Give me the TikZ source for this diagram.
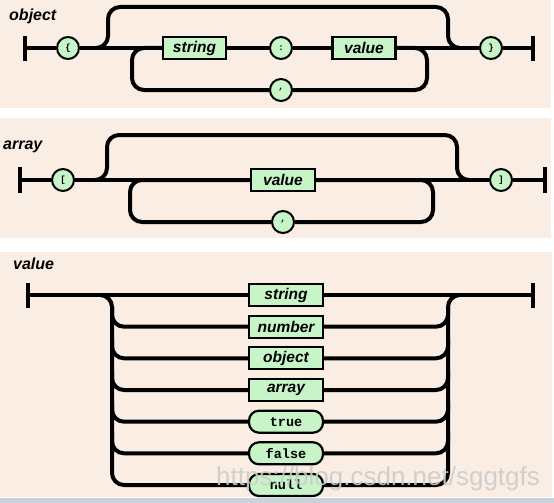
\documentclass[tikz,border=0pt]{standalone}
\usepackage{fontspec}
\setmainfont{Liberation Sans}
\setmonofont{Liberation Mono}
\definecolor{JsonPeach}{HTML}{FAEDE4}
\definecolor{JsonGreen}{HTML}{C8F5C8}
\definecolor{JsonEdge}{HTML}{C9D3DE}

\begin{document}
\begin{tikzpicture}[x=1pt,y=-1pt,
        rail/.style={line width=4pt,rounded corners=12pt},
        endbar/.style={line width=4pt},
        token/.style={circle,draw,line width=2pt,fill=JsonGreen,minimum size=22pt,inner sep=0pt,font=\ttfamily\bfseries\small},
        rulebox/.style={rectangle,draw,line width=2.2pt,fill=JsonGreen,minimum height=22pt,inner sep=0pt,font=\bfseries\itshape\fontsize{15.5}{15.5}\selectfont},
        literal/.style={rulebox,rounded corners=10pt,font=\ttfamily\bfseries\fontsize{13.5}{13.5}\selectfont},
        heading/.style={anchor=west,inner sep=0pt,font=\bfseries\itshape\fontsize{16}{16}\selectfont}]
    \useasboundingbox (0,0) rectangle (554,503);
    \fill[white] (0,0) rectangle (554,503);

    % object
    \fill[JsonPeach] (0,0) rectangle (551,108);
    \node[heading] (objTitle) at (9,16) {object};
    \coordinate (objIn) at (25,48);
    \coordinate (objOut) at (533,48);
    \node[token] (objOpen) at (68,48) {\{};
    \node[rulebox,minimum width=63pt] (objKey) at (194.5,48) {string};
    \node[token] (objColon) at (281,48) {:};
    \node[rulebox,minimum width=63pt] (objVal) at (364,48) {value};
    \node[token] (objClose) at (491,48) {\}};
    \node[token] (objComma) at (281,90) {,};
    \draw[endbar] (25,36) -- (25,61) (533,36) -- (533,61);
    \draw[rail] (objIn) -- (objOpen) -- (objKey) -- (objColon) -- (objVal) -- (objClose) -- (objOut);
    \draw[rail] (96,48) -- (108,48) -- (108,7) -- (448,7) -- (448,48) -- (460,48);   % empty object
    \draw[rail] (objVal.east) -- (427,48) -- (427,90) -- (objComma);
    \draw[rail] (objComma) -- (132,90) -- (132,48) -- (objKey.west);

    % array
    \fill[JsonPeach] (0,118) rectangle (551,238);
    \node[heading] (arrTitle) at (3,147) {array};
    \coordinate (arrIn) at (20,180);
    \coordinate (arrOut) at (545,180);
    \node[token] (arrOpen) at (63,180) {[};
    \node[rulebox,minimum width=64pt] (arrVal) at (283,180) {value};
    \node[token] (arrClose) at (501,180) {]};
    \node[token] (arrComma) at (283,222) {,};
    \draw[endbar] (20,167) -- (20,193) (545,167) -- (545,193);
    \draw[rail] (arrIn) -- (arrOpen) -- (arrVal) -- (arrClose) -- (arrOut);
    \draw[rail] (95,180) -- (107,180) -- (107,135) -- (457,135) -- (457,180) -- (469,180);   % empty array
    \draw[rail] (arrVal.east) -- (433,180) -- (433,222) -- (arrComma);
    \draw[rail] (arrComma) -- (130,222) -- (130,180) -- (arrVal.west);

    % value
    \fill[JsonPeach] (0,252) rectangle (552,497);
    \node[heading] (valTitle) at (13,264) {value};
    \coordinate (valIn) at (28,295);
    \coordinate (valOut) at (533,295);
    \node[rulebox,minimum width=74pt] (valString) at (286,295) {string};
    \node[rulebox,minimum width=74pt] (valNumber) at (286,326.7) {number};
    \node[rulebox,minimum width=74pt] (valObject) at (286,358.3) {object};
    \node[rulebox,minimum width=74pt] (valArray) at (286,390) {array};
    \node[literal,minimum width=74pt] (valTrue) at (286,421.7) {true};
    \node[literal,minimum width=74pt] (valFalse) at (286,453.3) {false};
    \node[literal,minimum width=74pt] (valNull) at (286,485) {null};
    \draw[endbar] (28,283) -- (28,308) (533,283) -- (533,308);
    \draw[rail] (valIn) -- (valString) -- (valOut);
    \draw[rail] (100,295) -- (112,295) -- (112,485) -- (valNull.west);
    \draw[rail] (valNull.east) -- (448,485) -- (448,295) -- (460,295);
    \foreach \n/\y in {valNumber/326.7,valObject/358.3,valArray/390,valTrue/421.7,valFalse/453.3}{
        \draw[rail] (112,\y-20) -- (112,\y) -- (\n.west);
        \draw[rail] (\n.east) -- (448,\y) -- (448,\y-20);
    }

    \fill[JsonEdge] (0,498) rectangle (554,503);
    \node[text=gray!40,text opacity=0.9,font=\fontsize{26}{26}\selectfont] (mark) at (378,479) {https://blog.csdn.net/sggtgfs};
\end{tikzpicture}
\end{document}
